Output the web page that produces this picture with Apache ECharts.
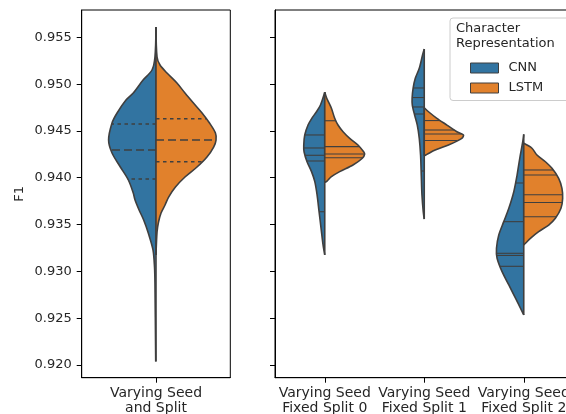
<!DOCTYPE html>
<html>
<head>
<meta charset="utf-8">
<script src="https://cdn.jsdelivr.net/npm/echarts@6/dist/echarts.min.js"></script>
<style>html,body{margin:0;padding:0;background:#fff;}#c{width:566px;height:414px;}</style>
</head>
<body>
<div id="c"></div>
<script>
// ---- categories & ticks ----
const CATEGORIES_LEFT = ['Varying Seed\nand Split'];
const CATEGORIES_RIGHT = ['Varying Seed\nFixed Split 0', 'Varying Seed\nFixed Split 1', 'Varying Seed\nFixed Split 2'];
const Y_TICKS = [0.920, 0.925, 0.930, 0.935, 0.940, 0.945, 0.950, 0.955];
const SERIES_NAMES = ['CNN', 'LSTM'];

// ---- violin outlines (F1 value, half-width as fraction of category band) ----
const cnnAll_f1 = [0.95610, 0.95290, 0.95151, 0.95044, 0.94905, 0.94830, 0.94692, 0.94585, 0.94403, 0.94264, 0.94115, 0.93976, 0.93837, 0.93762, 0.93656, 0.93549, 0.93410, 0.93228, 0.93047, 0.92876, 0.92036];
const cnnAll_width = [0, 0.007, 0.027, 0.087, 0.153, 0.202, 0.262, 0.296, 0.319, 0.296, 0.240, 0.186, 0.153, 0.141, 0.114, 0.083, 0.052, 0.020, 0.010, 0.007, 0.002];
const cnnAll_quartiles = [0.93987, 0.94296, 0.94574];

const lstmAll_f1 = [0.95610, 0.95290, 0.95204, 0.95119, 0.95012, 0.94905, 0.94798, 0.94692, 0.94585, 0.94478, 0.94403, 0.94328, 0.94222, 0.94115, 0.94008, 0.93901, 0.93794, 0.93709, 0.93624, 0.93527, 0.93421, 0.93175];
const lstmAll_width = [0, 0.007, 0.027, 0.074, 0.141, 0.195, 0.252, 0.310, 0.360, 0.400, 0.404, 0.388, 0.343, 0.276, 0.195, 0.131, 0.085, 0.061, 0.034, 0.017, 0.007, 0];
const lstmAll_quartiles = [0.94171, 0.94403, 0.94631];

const cnnS0_f1 = [0.94913, 0.94777, 0.94705, 0.94635, 0.94563, 0.94457, 0.94350, 0.94278, 0.94171, 0.94065, 0.93958, 0.93816, 0.93637, 0.93460, 0.93282, 0.93175];
const cnnS0_width = [0, 0.043, 0.083, 0.130, 0.168, 0.201, 0.211, 0.208, 0.178, 0.133, 0.100, 0.077, 0.057, 0.037, 0.017, 0];
const cnnS0_obs = [0.94457, 0.94318, 0.94240, 0.94179, 0.93637];

const lstmS0_f1 = [0.94913, 0.94849, 0.94742, 0.94635, 0.94563, 0.94492, 0.94421, 0.94350, 0.94278, 0.94254, 0.94208, 0.94136, 0.94065, 0.94011, 0.93965, 0.93951];
const lstmS0_width = [0, 0.020, 0.067, 0.100, 0.133, 0.184, 0.251, 0.334, 0.391, 0.401, 0.378, 0.284, 0.150, 0.067, 0.023, 0];
const lstmS0_obs = [0.94609, 0.94332, 0.94254, 0.94214];

const cnnS1_f1 = [0.95375, 0.95311, 0.95169, 0.95062, 0.94955, 0.94849, 0.94777, 0.94670, 0.94563, 0.94421, 0.94243, 0.94029, 0.93816, 0.93637, 0.93559];
const cnnS1_width = [0, 0.017, 0.050, 0.090, 0.112, 0.122, 0.120, 0.097, 0.070, 0.050, 0.037, 0.030, 0.023, 0.010, 0];
const cnnS1_obs = [0.94959, 0.94857, 0.94756, 0.94681, 0.94072];

const lstmS1_f1 = [0.94748, 0.94705, 0.94635, 0.94563, 0.94492, 0.94457, 0.94421, 0.94350, 0.94296, 0.94250, 0.94235];
const lstmS1_width = [0, 0.043, 0.127, 0.228, 0.328, 0.394, 0.378, 0.244, 0.110, 0.027, 0];
const lstmS1_obs = [0.94611, 0.94510, 0.94467, 0.94398];

const cnnS2_f1 = [0.94464, 0.94385, 0.94208, 0.94029, 0.93851, 0.93674, 0.93531, 0.93389, 0.93247, 0.93140, 0.92997, 0.92855, 0.92713, 0.92606, 0.92534];
const cnnS2_width = [0, 0.010, 0.040, 0.067, 0.100, 0.150, 0.201, 0.251, 0.274, 0.268, 0.218, 0.150, 0.083, 0.033, 0];
const cnnS2_obs = [0.93944, 0.93531, 0.93193, 0.93170, 0.93054];

const lstmS2_f1 = [0.94368, 0.94315, 0.94243, 0.94171, 0.94101, 0.93994, 0.93887, 0.93780, 0.93674, 0.93567, 0.93495, 0.93424, 0.93353, 0.93300, 0.93282];
const lstmS2_width = [0, 0.083, 0.133, 0.218, 0.284, 0.351, 0.384, 0.391, 0.374, 0.318, 0.251, 0.150, 0.067, 0.017, 0];
const lstmS2_obs = [0.94083, 0.94029, 0.93819, 0.93736, 0.93584];

// ---- styling ----
const BLUE = '#3274a1', ORANGE = '#e1812c', EDGE = '#3f3f3f', TXT = '#262626';
const FONT = 'DejaVu Sans';
const Y_MIN = 0.91864, Y_MAX = 0.95792;

const leftCNN = [{ f1: cnnAll_f1, w: cnnAll_width, quart: cnnAll_quartiles }];
const leftLSTM = [{ f1: lstmAll_f1, w: lstmAll_width, quart: lstmAll_quartiles }];
const rightCNN = [
  { f1: cnnS0_f1, w: cnnS0_width, sticks: cnnS0_obs },
  { f1: cnnS1_f1, w: cnnS1_width, sticks: cnnS1_obs },
  { f1: cnnS2_f1, w: cnnS2_width, sticks: cnnS2_obs }
];
const rightLSTM = [
  { f1: lstmS0_f1, w: lstmS0_width, sticks: lstmS0_obs },
  { f1: lstmS1_f1, w: lstmS1_width, sticks: lstmS1_obs },
  { f1: lstmS2_f1, w: lstmS2_width, sticks: lstmS2_obs }
];

function edgeAt(f1, w, v) {
  for (let i = 0; i < f1.length - 1; i++) {
    const a = f1[i], b = f1[i + 1];
    if (v <= a && v >= b) {
      const t = (a - v) / ((a - b) || 1);
      return w[i] + t * (w[i + 1] - w[i]);
    }
  }
  return 0;
}

function makeRender(halves, side, color) {
  return function (params, api) {
    const h = halves[params.dataIndex];
    const cat = api.value(0);
    const band = api.size([1, 0])[0];
    const pts = h.f1.map(function (v, i) {
      const p = api.coord([cat, v]);
      return [p[0] + side * h.w[i] * band, p[1]];
    });
    const top = api.coord([cat, h.f1[0]]);
    const bot = api.coord([cat, h.f1[h.f1.length - 1]]);
    const children = [{
      type: 'polyline', shape: { points: pts, smooth: 0.3 },
      style: { fill: color, stroke: null, lineWidth: 0 }
    }];
    if (h.quart) {
      h.quart.forEach(function (q, qi) {
        const p = api.coord([cat, q]);
        const hw = edgeAt(h.f1, h.w, q) * band;
        children.push({
          type: 'line',
          shape: { x1: p[0], y1: p[1], x2: p[0] + side * hw, y2: p[1] },
          style: { stroke: EDGE, lineWidth: 1.6, lineDash: qi === 1 ? [8, 4] : [3.5, 3.5] }
        });
      });
    }
    if (h.sticks) {
      h.sticks.forEach(function (s) {
        const p = api.coord([cat, s]);
        const hw = edgeAt(h.f1, h.w, s) * band;
        children.push({
          type: 'line',
          shape: { x1: p[0], y1: p[1], x2: p[0] + side * hw, y2: p[1] },
          style: { stroke: EDGE, lineWidth: 1.1 }
        });
      });
    }
    children.push({
      type: 'polyline', shape: { points: pts, smooth: 0.3 },
      style: { fill: null, stroke: EDGE, lineWidth: 1.6, lineJoin: 'round' }
    });
    children.push({
      type: 'line', shape: { x1: top[0], y1: top[1], x2: bot[0], y2: bot[1] },
      style: { stroke: EDGE, lineWidth: 1.6 }
    });
    return { type: 'group', children: children };
  };
}

const axisText = { color: TXT, fontFamily: FONT, fontSize: 13 };

function yAxis(gi, showLabels) {
  return {
    gridIndex: gi, type: 'value', min: Y_MIN, max: Y_MAX,
    name: showLabels ? 'F1' : '', nameLocation: 'middle', nameGap: 56,
    nameTextStyle: axisText,
    axisLine: { show: true, lineStyle: { color: '#000', width: 1 } },
    axisTick: { show: true, length: 5, customValues: Y_TICKS, lineStyle: { color: '#000', width: 1 } },
    axisLabel: Object.assign({ show: showLabels, customValues: Y_TICKS, margin: 10,
      formatter: function (v) { return v.toFixed(3); } }, axisText),
    splitLine: { show: false }
  };
}

function xAxis(gi, cats) {
  return {
    gridIndex: gi, type: 'category', data: cats, boundaryGap: true,
    axisLine: { show: true, lineStyle: { color: '#000', width: 1 } },
    axisTick: { show: true, alignWithLabel: true, length: 5, lineStyle: { color: '#000' } },
    axisLabel: { margin: 8, lineHeight: 15, interval: 0, color: TXT, fontFamily: FONT, fontSize: 14 },
    splitLine: { show: false }
  };
}

const chart = echarts.init(document.getElementById('c'), null, { renderer: 'canvas' });
chart.setOption({
  animation: false,
  backgroundColor: '#fff',
  grid: [
    { left: 81.7, top: 10, width: 148.6, height: 367.7, show: true, borderColor: '#000', borderWidth: 1,
      containLabel: false, outerBoundsMode: 'none' },
    { left: 275, top: 10, width: 298.5, height: 367.7, show: true, borderColor: '#000', borderWidth: 1,
      containLabel: false, outerBoundsMode: 'none' }
  ],
  xAxis: [xAxis(0, CATEGORIES_LEFT), xAxis(1, CATEGORIES_RIGHT)],
  yAxis: [yAxis(0, true), yAxis(1, false)],
  legend: {
    data: SERIES_NAMES, orient: 'vertical', left: 465, top: 56,
    itemWidth: 28, itemHeight: 10, itemGap: 6, icon: 'rect', selectedMode: false,
    itemStyle: { borderColor: EDGE, borderWidth: 1 },
    textStyle: { color: TXT, fontFamily: FONT, fontSize: 13, lineHeight: 14, padding: [0, 0, 0, 5] },
    z: 5
  },
  graphic: [
    { type: 'rect', left: 449.5, top: 17.5, shape: { width: 122, height: 82.5, r: 3 },
      style: { fill: 'rgba(255,255,255,0.8)', stroke: '#cccccc', lineWidth: 1 }, z: 3 },
    { type: 'text', left: 456, top: 21, z: 4,
      style: { text: 'Character\nRepresentation', fill: TXT, font: '13px "DejaVu Sans"', lineHeight: 15 } }
  ],
  series: [
    { type: 'custom', name: 'CNN', xAxisIndex: 0, yAxisIndex: 0, itemStyle: { color: BLUE },
      renderItem: makeRender(leftCNN, -1, BLUE), data: [[0]], z: 2 },
    { type: 'custom', name: 'LSTM', xAxisIndex: 0, yAxisIndex: 0, itemStyle: { color: ORANGE },
      renderItem: makeRender(leftLSTM, 1, ORANGE), data: [[0]], z: 2 },
    { type: 'custom', name: 'CNN', xAxisIndex: 1, yAxisIndex: 1, itemStyle: { color: BLUE },
      renderItem: makeRender(rightCNN, -1, BLUE), data: [[0], [1], [2]], z: 2 },
    { type: 'custom', name: 'LSTM', xAxisIndex: 1, yAxisIndex: 1, itemStyle: { color: ORANGE },
      renderItem: makeRender(rightLSTM, 1, ORANGE), data: [[0], [1], [2]], z: 2 }
  ]
});
</script>
</body>
</html>
